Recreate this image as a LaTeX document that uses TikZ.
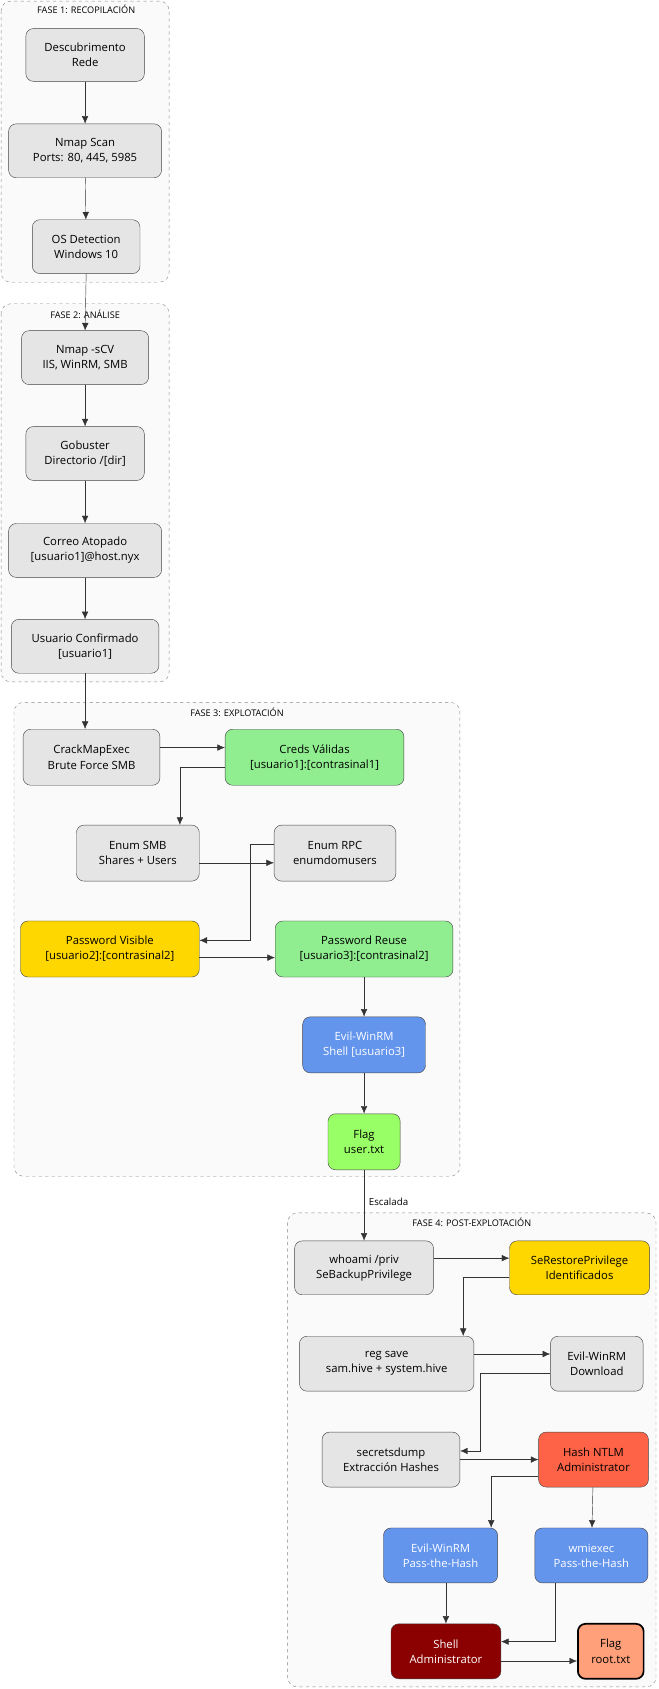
\documentclass[tikz,border=0pt]{standalone}
\usepackage{fontspec}
\setmainfont{Open Sans}
\usetikzlibrary{arrows.meta}
\definecolor{gbox}{HTML}{E5E5E5}
\definecolor{bord}{HTML}{444444}
\definecolor{lgreen}{HTML}{90EE90}
\definecolor{gold}{HTML}{FFD700}
\definecolor{cblue}{HTML}{6495ED}
\definecolor{lime}{HTML}{99FF66}
\definecolor{tomato}{HTML}{FF6347}
\definecolor{dred}{HTML}{8B0000}
\definecolor{salmon}{HTML}{FFA07A}
\definecolor{clfill}{HTML}{FAFAFA}
\definecolor{clbord}{HTML}{888888}
\begin{document}
\begin{tikzpicture}[x=1pt,y=-1pt,
  box/.style={draw=bord,fill=gbox,rounded corners=7pt,align=center,font=\fontsize{10.5}{14}\selectfont,inner sep=2pt},
  cl/.style={draw=clbord,dashed,fill=clfill,rounded corners=9pt},
  cltitle/.style={font=\fontsize{8.5}{10}\selectfont},
  arr/.style={draw=black!80,-{Latex[length=7pt,width=6pt]}}]
\useasboundingbox (0,0) rectangle (611,1568);
\fill[white] (0,0) rectangle (611,1568);
% clusters
\draw[cl] (1,1) rectangle (157,262);
\node[cltitle] (t1) at (80,9) {FASE 1: RECOPILACIÓN};
\draw[cl] (1,282) rectangle (157,633);
\node[cltitle] (t2) at (79,292) {FASE 2: ANÁLISE};
\draw[cl] (13,652) rectangle (427,1092);
\node[cltitle] (t3) at (220,661) {FASE 3: EXPLOTACIÓN};
\draw[cl] (267,1126) rectangle (609,1566);
\node[cltitle] (t4) at (438,1135) {FASE 4: POST-EXPLOTACIÓN};
% phase 1
\node[box,minimum width=110pt,minimum height=49pt] (d) at (79,51) {Descubrimento\\Rede};
\node[box,minimum width=142pt,minimum height=50pt] (nm) at (79,140) {Nmap Scan\\Ports: 80, 445, 5985};
\node[box,minimum width=100pt,minimum height=50pt] (os) at (80,229) {OS Detection\\Windows 10};
% phase 2
\node[box,minimum width=118pt,minimum height=50pt] (sc) at (79,332) {Nmap -sCV\\IIS, WinRM, SMB};
\node[box,minimum width=110pt,minimum height=50pt] (gb) at (79,421) {Gobuster\\Directorio /[dir]};
\node[box,minimum width=142pt,minimum height=50pt] (co) at (79,511) {Correo Atopado\\{}[usuario1]@host.nyx};
\node[box,minimum width=137pt,minimum height=50pt] (uc) at (79,600) {Usuario Confirmado\\{}[usuario1]};
% phase 3
\node[box,minimum width=127pt,minimum height=52pt] (cme) at (85,703) {CrackMapExec\\Brute Force SMB};
\node[box,fill=lgreen,minimum width=166pt,minimum height=52pt] (cr) at (292,703) {Creds Válidas\\{}[usuario1]:[contrasinal1]};
\node[box,minimum width=114pt,minimum height=52pt] (es) at (128,792) {Enum SMB\\Shares + Users};
\node[box,minimum width=113pt,minimum height=52pt] (er) at (311,792) {Enum RPC\\enumdomusers};
\node[box,fill=gold,minimum width=166pt,minimum height=52pt] (pv) at (102,881) {Password Visible\\{}[usuario2]:[contrasinal2]};
\node[box,fill=lgreen,minimum width=165pt,minimum height=52pt] (pr) at (338,881) {Password Reuse\\{}[usuario3]:[contrasinal2]};
\node[box,fill=cblue,text=white,minimum width=114pt,minimum height=52pt] (ew) at (338,970) {Evil-WinRM\\Shell [usuario3]};
\node[box,fill=lime,minimum width=67pt,minimum height=52pt] (fu) at (338,1060) {Flag\\user.txt};
% phase 4
\node[box,minimum width=129pt,minimum height=50pt] (wh) at (338,1177) {whoami /priv\\SeBackupPrivilege};
\node[box,fill=gold,minimum width=130pt,minimum height=50pt] (sr) at (538,1177) {SeRestorePrivilege\\Identificados};
\node[box,minimum width=162pt,minimum height=51pt] (rs) at (359,1266) {reg save\\sam.hive + system.hive};
\node[box,minimum width=86pt,minimum height=51pt] (ed) at (554,1266) {Evil-WinRM\\Download};
\node[box,minimum width=128pt,minimum height=51pt] (sd) at (363,1355) {secretsdump\\Extracción Hashes};
\node[box,fill=tomato,minimum width=102pt,minimum height=51pt] (hn) at (551,1355) {Hash NTLM\\Administrator};
\node[box,fill=cblue,text=white,minimum width=106pt,minimum height=51pt] (ep) at (409,1444) {Evil-WinRM\\Pass-the-Hash};
\node[box,fill=cblue,text=white,minimum width=105pt,minimum height=51pt] (wm) at (549,1444) {wmiexec\\Pass-the-Hash};
\node[box,fill=dred,text=white,minimum width=102pt,minimum height=51pt] (sh) at (414,1533) {Shell\\Administrator};
\node[box,fill=salmon,line width=1.6pt,draw=black,minimum width=61pt,minimum height=51pt] (fr) at (567,1533) {Flag\\root.txt};
% edges
\draw[arr] (d) -- (nm);
\draw[arr] (nm) -- (os);
\draw[arr] (os.south) -- (sc.north);
\draw[arr] (sc) -- (gb);
\draw[arr] (gb) -- (co);
\draw[arr] (co) -- (uc);
\draw[arr] (uc.south) -- (cme.north -| uc.south);
\draw[arr] ([yshift=9pt]cme.east) -- ([yshift=9pt]cr.west);
\draw[arr] ([yshift=-9pt]cr.west) -| ([xshift=39pt]es.north);
\draw[arr] ([yshift=-9pt]es.east) -- ([yshift=-9pt]er.west);
\draw[arr] ([yshift=8pt]er.west) -| ([xshift=47pt,yshift=8pt]pv.east) -- ([yshift=8pt]pv.east);
\draw[arr] ([yshift=-8pt]pv.east) -- ([yshift=-8pt]pr.west);
\draw[arr] (pr) -- (ew);
\draw[arr] (ew) -- (fu);
\draw[arr] (fu) -- node[right,font=\rmfamily\fontsize{9}{10}\selectfont,xshift=1pt,pos=0.45]{Escalada} (wh);
\draw[arr] ([yshift=9pt]wh.east) -- ([yshift=9pt]sr.west);
\draw[arr] ([yshift=-9pt]sr.west) -| ([xshift=71pt]rs.north);
\draw[arr] ([yshift=9pt]rs.east) -- ([yshift=9pt]ed.west);
\draw[arr] ([yshift=-9pt]ed.west) -| ([xshift=19pt,yshift=8pt]sd.east) -- ([yshift=8pt]sd.east);
\draw[arr] (sd.east) -- (hn.west);
\draw[arr] ([yshift=-15pt]hn.west) -| ([xshift=47pt]ep.north);
\draw[arr] (hn) -- (wm);
\draw[arr] (ep.south -| sh.north) -- (sh.north);
\draw[arr] ([xshift=-34pt]wm.south) |- ([yshift=9pt]sh.east);
\draw[arr] ([yshift=-9pt]sh.east) -- ([yshift=-9pt]fr.west);
\end{tikzpicture}
\end{document}
